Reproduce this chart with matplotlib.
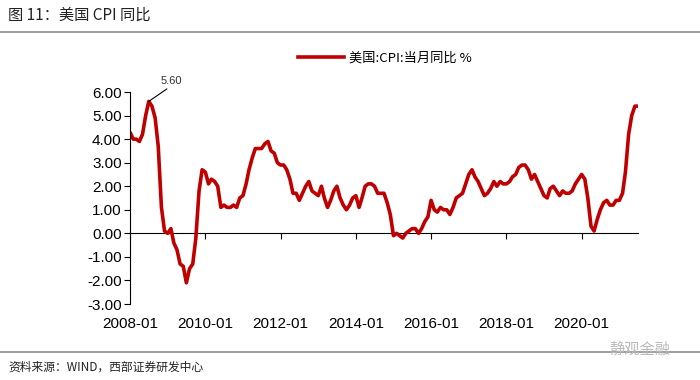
import matplotlib.pyplot as plt
import matplotlib.lines as mlines
import pandas as pd

"""
    美国 CPI 同比 (2008-01 ~ 2021-07)
"""

plt.rcParams['font.family'] = ['Noto Sans CJK SC', 'DejaVu Sans']
plt.rcParams['axes.unicode_minus'] = False

start = '2008-01'
cpi_yoy = [
    4.3, 4.0, 4.0, 3.9, 4.2, 5.0, 5.6, 5.4, 4.9, 3.7, 1.1, 0.1,      # 2008
    0.0, 0.2, -0.4, -0.7, -1.3, -1.4, -2.1, -1.5, -1.3, -0.2, 1.8, 2.7,  # 2009
    2.6, 2.1, 2.3, 2.2, 2.0, 1.1, 1.2, 1.1, 1.1, 1.2, 1.1, 1.5,      # 2010
    1.6, 2.1, 2.7, 3.2, 3.6, 3.6, 3.6, 3.8, 3.9, 3.5, 3.4, 3.0,      # 2011
    2.9, 2.9, 2.7, 2.3, 1.7, 1.7, 1.4, 1.7, 2.0, 2.2, 1.8, 1.7,      # 2012
    1.6, 2.0, 1.5, 1.1, 1.4, 1.8, 2.0, 1.5, 1.2, 1.0, 1.2, 1.5,      # 2013
    1.6, 1.1, 1.5, 2.0, 2.1, 2.1, 2.0, 1.7, 1.7, 1.7, 1.3, 0.8,      # 2014
    -0.1, 0.0, -0.1, -0.2, 0.0, 0.1, 0.2, 0.2, 0.0, 0.2, 0.5, 0.7,   # 2015
    1.4, 1.0, 0.9, 1.1, 1.0, 1.0, 0.8, 1.1, 1.5, 1.6, 1.7, 2.1,      # 2016
    2.5, 2.7, 2.4, 2.2, 1.9, 1.6, 1.7, 1.9, 2.2, 2.0, 2.2, 2.1,      # 2017
    2.1, 2.2, 2.4, 2.5, 2.8, 2.9, 2.9, 2.7, 2.3, 2.5, 2.2, 1.9,      # 2018
    1.6, 1.5, 1.9, 2.0, 1.8, 1.6, 1.8, 1.7, 1.7, 1.8, 2.1, 2.3,      # 2019
    2.5, 2.3, 1.5, 0.3, 0.1, 0.6, 1.0, 1.3, 1.4, 1.2, 1.2, 1.4,      # 2020
    1.4, 1.7, 2.6, 4.2, 5.0, 5.4, 5.4,                               # 2021
]
tick_labels = ['2008-01', '2010-01', '2012-01', '2014-01', '2016-01', '2018-01', '2020-01']
y_ticks = [6, 5, 4, 3, 2, 1, 0, -1, -2, -3]

dates = pd.date_range(start, periods=len(cpi_yoy), freq='MS')
tick_dates = pd.to_datetime(tick_labels)
red = '#C00000'

fig = plt.figure(figsize=(7, 3.8), dpi=100, facecolor='w')
ax = fig.add_axes([130 / 700, 1 - 304 / 380, 508 / 700, 212 / 380])

ax.plot(dates, cpi_yoy, color=red, linewidth=2.6, solid_capstyle='butt')
ax.set_xlim(dates[0], dates[-1])
ax.set_ylim(-3, 6)

# y 轴
ax.set_yticks(y_ticks)
ax.set_yticklabels(['%.2f' % v for v in y_ticks], fontsize=11, family='Liberation Sans')
ax.tick_params(axis='y', direction='out', length=4, width=0.8, pad=2)
for s in ['top', 'right', 'bottom']:
    ax.spines[s].set_visible(False)
ax.spines['left'].set_linewidth(0.8)

# x 轴: 标签在底部, 轴线在 0 处
ax.set_xticks(tick_dates)
ax.set_xticklabels(tick_labels, fontsize=11, family='Liberation Sans')
ax.tick_params(axis='x', length=0, pad=9)
sec = ax.secondary_xaxis(1 / 3)
sec.set_xticks(tick_dates)
sec.set_xticklabels([])
sec.tick_params(axis='x', direction='out', length=4, width=0.8)
sec.spines['bottom'].set_linewidth(0.8)

# 峰值标注
peak = cpi_yoy.index(max(cpi_yoy))
ax.annotate('%.2f' % cpi_yoy[peak], xy=(dates[peak], cpi_yoy[peak]),
            xytext=(dates[peak + 7], 6.25), fontsize=8, family='Liberation Sans',
            color='#333333', ha='center', va='bottom',
            arrowprops=dict(arrowstyle='-', color='black', lw=0.8,
                            shrinkA=0, shrinkB=0, relpos=(0.5, 0)))

# 图例
h = mlines.Line2D([], [], color=red, linewidth=2.6)
fig.legend([h], ['美国:CPI:当月同比 %'], loc='center', bbox_to_anchor=(385 / 700, 1 - 58 / 380),
           frameon=False, fontsize=9.5, handlelength=3.5, handletextpad=0.4)

# 标题与来源
fig.text(8 / 700, 1 - 15 / 380, '图 11：美国 CPI 同比', fontsize=11, va='center', ha='left', color='#222222')
fig.add_artist(mlines.Line2D([0, 1], [1 - 32 / 380, 1 - 32 / 380], color='#8c8c8c', linewidth=1.2))
fig.add_artist(mlines.Line2D([0, 1], [1 - 352 / 380, 1 - 352 / 380], color='#8c8c8c', linewidth=1.2))
fig.text(8 / 700, 1 - 367 / 380, '资料来源：WIND，西部证券研发中心', fontsize=8.5, va='center', ha='left', color='#222222')
fig.text(640 / 700, 1 - 349 / 380, '静观金融', fontsize=11, va='center', ha='center', color='#bbbbbb')

fig.savefig('out.png', dpi=100, facecolor='w')
